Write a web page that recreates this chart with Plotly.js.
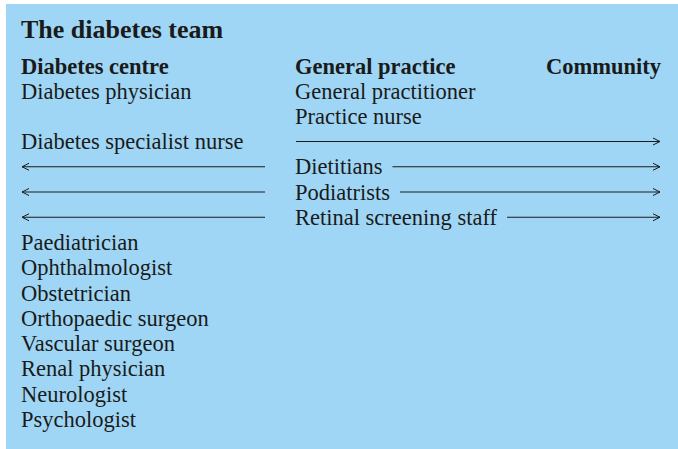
<!DOCTYPE html>
<html><head><meta charset="utf-8">
<script src="https://cdn.plot.ly/plotly-3.0.1.min.js"></script>
<style>html,body{margin:0;padding:0;background:#fff;}#chart{width:678px;height:449px;}</style>
</head><body><div id="chart"></div>
<script>
// ---- content ----
const boxTitle = 'The diabetes team';
const columnHeaders = ['Diabetes centre', 'General practice', 'Community'];
// one entry per row (row 0 = first staff row)
const centreStaff = ['Diabetes physician', '', 'Diabetes specialist nurse', '', '', '',
  'Paediatrician', 'Ophthalmologist', 'Obstetrician', 'Orthopaedic surgeon',
  'Vascular surgeon', 'Renal physician', 'Neurologist', 'Psychologist'];
const practiceStaff = ['General practitioner', 'Practice nurse', '', 'Dietitians',
  'Podiatrists', 'Retinal screening staff'];
const leftArrowRows = [3, 4, 5];      // staff shared with diabetes centre
const rightArrowRows = [2, 3, 4, 5];  // staff reaching into the community

// ---- layout geometry / style ----
const W = 678, H = 449;
const boxX0 = 6, boxY0 = 4;
const col1 = 22, col2 = 296, colRight = 661;
const titleY = 29, headerY = 66, row0Y = 91, rowStep = 25.25;
const leftArrowEnd = 265, rightArrowEnd = 660;
const FACE = 'Liberation Serif';
const FONT = '"Liberation Serif", "DejaVu Serif", serif';
const ink = '#1a1a1a';
const fsBody = 22.5, fsHead = 22.5, fsTitle = 26;

const ctx = document.createElement('canvas').getContext('2d');
function textW(t, size, bold) {
  ctx.font = (bold ? 'bold ' : '') + size + 'px "' + FACE + '"';
  return ctx.measureText(t).width;
}

const rowY = i => row0Y + i * rowStep;
const annotations = [];
function label(text, x, y, size, bold, anchor) {
  annotations.push({
    text: bold ? '<b>' + text + '</b>' : text, x: x, y: y, xref: 'x', yref: 'y',
    xanchor: anchor || 'left', yanchor: 'middle', showarrow: false,
    xshift: anchor === 'right' ? 2 : -2, borderpad: 0,
    font: {family: FONT, size: size, color: ink}
  });
}
label(boxTitle, col1, titleY, fsTitle, true);
label(columnHeaders[0], col1, headerY, fsHead, true);
label(columnHeaders[1], col2, headerY, fsHead, true);
label(columnHeaders[2], colRight, headerY, fsHead, true, 'right');
centreStaff.forEach((t, i) => { if (t) label(t, col1, rowY(i), fsBody, false); });
practiceStaff.forEach((t, i) => { if (t) label(t, col2, rowY(i), fsBody, false); });

const shapes = [{type: 'rect', xref: 'x', yref: 'y', x0: boxX0, x1: W, y0: boxY0, y1: H,
  fillcolor: '#9fd6f5', line: {width: 0}, layer: 'below'}];
const lineStyle = {color: ink, width: 1};
function arrow(xFrom, xTo, y) {
  shapes.push({type: 'line', xref: 'x', yref: 'y', x0: xFrom, x1: xTo, y0: y, y1: y, line: lineStyle});
  const d = xTo > xFrom ? -1 : 1;
  shapes.push({type: 'path', xref: 'x', yref: 'y',
    path: `M${xTo + d * 7},${y - 3.5} L${xTo},${y} L${xTo + d * 7},${y + 3.5}`, line: lineStyle});
}
const lineOffset = 0;
leftArrowRows.forEach(i => arrow(leftArrowEnd, col1, rowY(i) + lineOffset));
rightArrowRows.forEach(i => {
  const t = practiceStaff[i] || '';
  const start = t ? col2 + textW(t, fsBody, false) + 9 : col2;
  arrow(start, rightArrowEnd, rowY(i) + lineOffset);
});

const layout = {
  width: W, height: H, margin: {l: 0, r: 0, t: 0, b: 0},
  paper_bgcolor: '#ffffff', plot_bgcolor: '#ffffff', showlegend: false,
  xaxis: {range: [0, W], visible: false, fixedrange: true},
  yaxis: {range: [H, 0], visible: false, fixedrange: true},
  annotations: annotations, shapes: shapes
};
Plotly.newPlot('chart', [], layout, {displayModeBar: false, staticPlot: true});
</script></body></html>
